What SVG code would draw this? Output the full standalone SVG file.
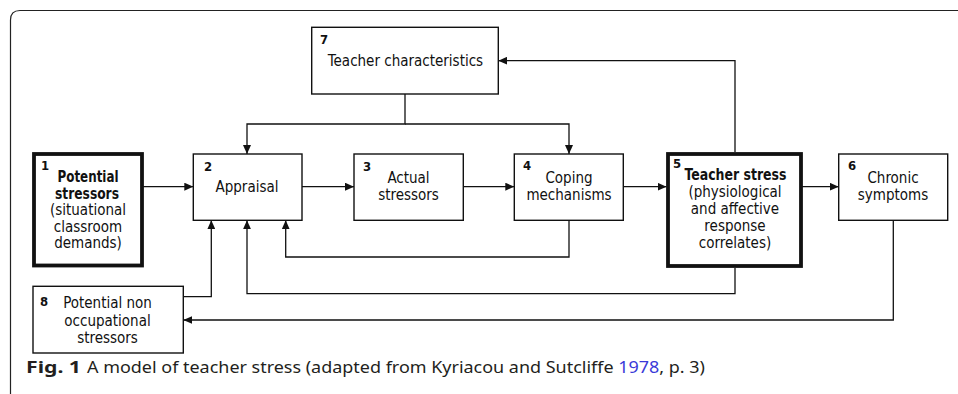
<svg xmlns="http://www.w3.org/2000/svg" width="958" height="394" viewBox="0 0 958 394">
<defs>
<marker id="ah" viewBox="0 0 9 8" refX="9" refY="4" markerWidth="9" markerHeight="8" markerUnits="userSpaceOnUse" orient="auto">
<path d="M0,0 L9,4 L0,8 Z" fill="#111"/>
</marker>
<style>
.box{fill:#fff;stroke:#111;stroke-width:1.4}
.thick{fill:#fff;stroke:#111;stroke-width:3.8}
.t{font-family:"DejaVu Sans Condensed","DejaVu Sans",sans-serif;font-stretch:condensed;font-size:15px;fill:#111;text-anchor:middle}
.b{font-weight:bold;font-size:15px}
.n{font-family:"DejaVu Sans Condensed","DejaVu Sans",sans-serif;font-stretch:condensed;font-size:13px;font-weight:bold;fill:#111}
.c{fill:none;stroke:#111;stroke-width:1.3}
.cap{font-family:"Noto Sans","Open Sans",sans-serif;font-size:16.5px;fill:#231f20}
</style>
</defs>
<path d="M958,10.5 L20,10.5 Q10.5,10.5 10.5,20 L10.5,394" fill="none" stroke="#222" stroke-width="1.2"/>
<g id="connectors">
<line class="c" x1="142" y1="186.7" x2="193.3" y2="186.7" marker-end="url(#ah)"/>
<line class="c" x1="302" y1="186.7" x2="354" y2="186.7" marker-end="url(#ah)"/>
<line class="c" x1="463.3" y1="186.7" x2="514.3" y2="186.7" marker-end="url(#ah)"/>
<line class="c" x1="623.3" y1="186.7" x2="666.5" y2="186.7" marker-end="url(#ah)"/>
<line class="c" x1="801" y1="186.7" x2="838.7" y2="186.7" marker-end="url(#ah)"/>
<polyline class="c" points="405,94 405,124 247,124 247,154" marker-end="url(#ah)"/>
<polyline class="c" points="405,124 569,124 569,154" marker-end="url(#ah)"/>
<polyline class="c" points="735,152 735,60.7 498.3,60.7" marker-end="url(#ah)"/>
<polyline class="c" points="569,220.3 569,257 285.7,257 285.7,220.3" marker-end="url(#ah)"/>
<polyline class="c" points="735,268 735,293.7 247,293.7 247,220.3" marker-end="url(#ah)"/>
<polyline class="c" points="183.3,296.7 211.3,296.7 211.3,220.3" marker-end="url(#ah)"/>
<polyline class="c" points="893.3,220.3 893.3,320 183.3,320" marker-end="url(#ah)"/>
</g>
<g id="node7">
<rect class="box" x="311.7" y="27.3" width="186.6" height="66.7"/>
<text class="n" x="320" y="44">7</text>
<text class="t" x="405.5" y="66">Teacher characteristics</text>
</g>
<g id="node1">
<rect class="thick" x="34" y="154" width="108" height="111.5"/>
<text class="n" x="41" y="170">1</text>
<text class="t b" x="88" y="182" textLength="61" lengthAdjust="spacingAndGlyphs">Potential</text>
<text class="t b" x="87" y="198.5" textLength="64" lengthAdjust="spacingAndGlyphs">stressors</text>
<text class="t" x="88" y="215">(situational</text>
<text class="t" x="88" y="231.5">classroom</text>
<text class="t" x="88" y="248">demands)</text>
</g>
<g id="node2">
<rect class="box" x="193.3" y="154" width="108.7" height="66.3"/>
<text class="n" x="204" y="171">2</text>
<text class="t" x="247" y="192">Appraisal</text>
</g>
<g id="node3">
<rect class="box" x="354" y="154" width="109.3" height="66.3"/>
<text class="n" x="363" y="171">3</text>
<text class="t" x="408.5" y="183">Actual</text>
<text class="t" x="408.5" y="200">stressors</text>
</g>
<g id="node4">
<rect class="box" x="514.3" y="154" width="109" height="66.3"/>
<text class="n" x="523" y="170">4</text>
<text class="t" x="569" y="183">Coping</text>
<text class="t" x="569" y="200">mechanisms</text>
</g>
<g id="node5">
<rect class="thick" x="668" y="154" width="133" height="112"/>
<text class="n" x="673" y="168">5</text>
<text class="t b" x="735.5" y="180" textLength="102" lengthAdjust="spacingAndGlyphs">Teacher stress</text>
<text class="t" x="735" y="197">(physiological</text>
<text class="t" x="735" y="214">and affective</text>
<text class="t" x="735" y="231">response</text>
<text class="t" x="735" y="248">correlates)</text>
</g>
<g id="node6">
<rect class="box" x="838.7" y="154" width="109" height="66.3"/>
<text class="n" x="848" y="170">6</text>
<text class="t" x="893" y="183">Chronic</text>
<text class="t" x="893" y="200">symptoms</text>
</g>
<g id="node8">
<rect class="box" x="33" y="286.3" width="150.3" height="66.7"/>
<text class="n" x="40" y="306">8</text>
<text class="t" x="107.5" y="308">Potential non</text>
<text class="t" x="107.5" y="325.5">occupational</text>
<text class="t" x="107.5" y="343">stressors</text>
</g>
<g id="caption">
<text class="cap" x="26" y="373" font-weight="bold" textLength="55" lengthAdjust="spacingAndGlyphs">Fig. 1</text>
<text class="cap" x="87" y="373" textLength="618" lengthAdjust="spacingAndGlyphs">A model of teacher stress (adapted from Kyriacou and Sutcliffe <tspan fill="#3a3ad8">1978</tspan>, p. 3)</text>
</g>
</svg>
